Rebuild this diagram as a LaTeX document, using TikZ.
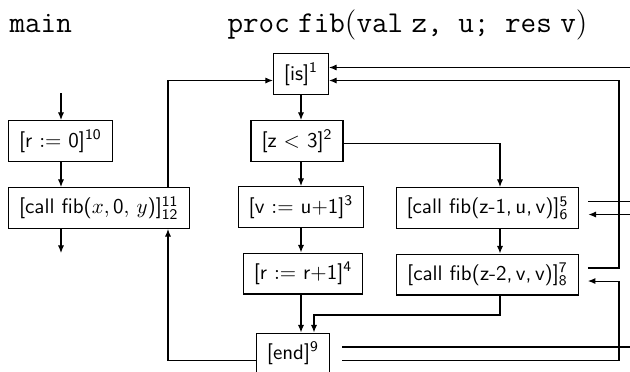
\documentclass[tikz,border=0pt]{standalone}
\usetikzlibrary{positioning,arrows.meta}
\tikzset{
  blk/.style={draw, font=\sffamily, inner xsep=5pt, minimum height=19.5pt},
  flow/.style={-{Latex[length=3.6pt,width=2.9pt]}},
  head/.style={anchor=base west, inner sep=0pt, font=\Large\ttfamily},
}
\begin{document}
\begin{tikzpicture}[x=0.476pt,y=-0.476pt,line width=0.5pt]
\useasboundingbox (0,0) rectangle (630,371);
% headings
\node[head] (hmain) at (9,32) {main};
\node[head] (hfib) at (227,32) {proc\;fib$\bigl($val\;z,\ u;\ res\;v$\bigr)$};
% main program
\node[blk, anchor=north west] (asg10) at (8,120) {[r $:=$ 0]$^{\mathsf{10}}$};
\node[blk, anchor=north west] (call11) at (8,187) {[call fib($x,\,$0$,\,y$)]$^{\mathsf{11}}_{\mathsf{12}}$};
% procedure fib
\node[blk] (is1) at (301,74) {[is]$^{\mathsf{1}}$};
\node[blk] (cond2) at (297,141) {[z $<$ 3]$^{\mathsf{2}}$};
\node[blk] (asg3) at (301,207) {[v $:=$ u$+$1]$^{\mathsf{3}}$};
\node[blk] (asg4) at (303,273.5) {[r $:=$ r$+$1]$^{\mathsf{4}}$};
\node[blk] (end9) at (293,353.5) {[end]$^{\mathsf{9}}$};
\node[blk] (call5) at (487.5,208) {[call fib(z-1,\,u,\,v)]$^{\mathsf{5}}_{\mathsf{6}}$};
\node[blk] (call7) at (487.5,274.5) {[call fib(z-2,\,v,\,v)]$^{\mathsf{7}}_{\mathsf{8}}$};
% rails and free ends
\coordinate (min) at (61,93);
\coordinate (mout) at (61,253);
\coordinate (lr) at (168,0);
\coordinate (rr) at (619,0);
\coordinate (rc) at (500,0);
\coordinate (edge) at (634,0);
\coordinate (jn) at (314,315);
\coordinate (is1a) at ([yshift=3.1pt]is1.east);
\coordinate (is1b) at ([yshift=-3.1pt]is1.east);
\coordinate (call5a) at ([xshift=4.3pt,yshift=3.1pt]call5.east);
\coordinate (call5b) at ([xshift=4.3pt,yshift=-3.1pt]call5.east);
\coordinate (call7a) at ([xshift=4.3pt,yshift=3.1pt]call7.east);
\coordinate (call7b) at ([xshift=4.3pt,yshift=-3.1pt]call7.east);
\coordinate (end9a) at ([xshift=5.7pt,yshift=3.1pt]end9.east);
\coordinate (end9b) at ([xshift=5.7pt,yshift=-3.1pt]end9.east);
% main flow
\draw[flow] (min) -- (min |- asg10.north);
\draw[flow] (min |- asg10.south) -- (min |- call11.north);
\draw[flow] (min |- call11.south) -- (mout);
\draw[flow] (call11.north -| lr) |- ([yshift=-3.1pt]is1.west);
\draw[flow] ([yshift=-3.1pt]end9.west) -| (call11.south -| lr);
% fib flow
\draw[flow] (is1.south) -- (is1.south |- cond2.north);
\draw[flow] (is1.south |- cond2.south) -- (is1.south |- asg3.north);
\draw[flow] (asg3.south) -- (asg3.south |- asg4.north);
\draw[flow] (asg3.south |- asg4.south) -- (asg3.south |- end9.north);
\draw[flow] ([yshift=-1.4pt]cond2.east) -| (rc |- call5.north);
\draw[flow] (rc |- call5.south) -- (rc |- call7.north);
\draw[flow] (rc |- call7.south) |- (jn) -- (jn |- end9.north);
% calls and returns
\draw[flow] (is1a -| edge) -- (is1a);
\draw (call5a) -- (call5a -| edge);
\draw[flow] (call5b -| edge) -- (call5b);
\draw[flow] (call7a) -| (rr |- is1b) -- (is1b);
\draw (end9a) -- (end9a -| edge);
\draw[flow] (end9b) -| (rr |- call7b) -- (call7b);
\end{tikzpicture}
\end{document}
